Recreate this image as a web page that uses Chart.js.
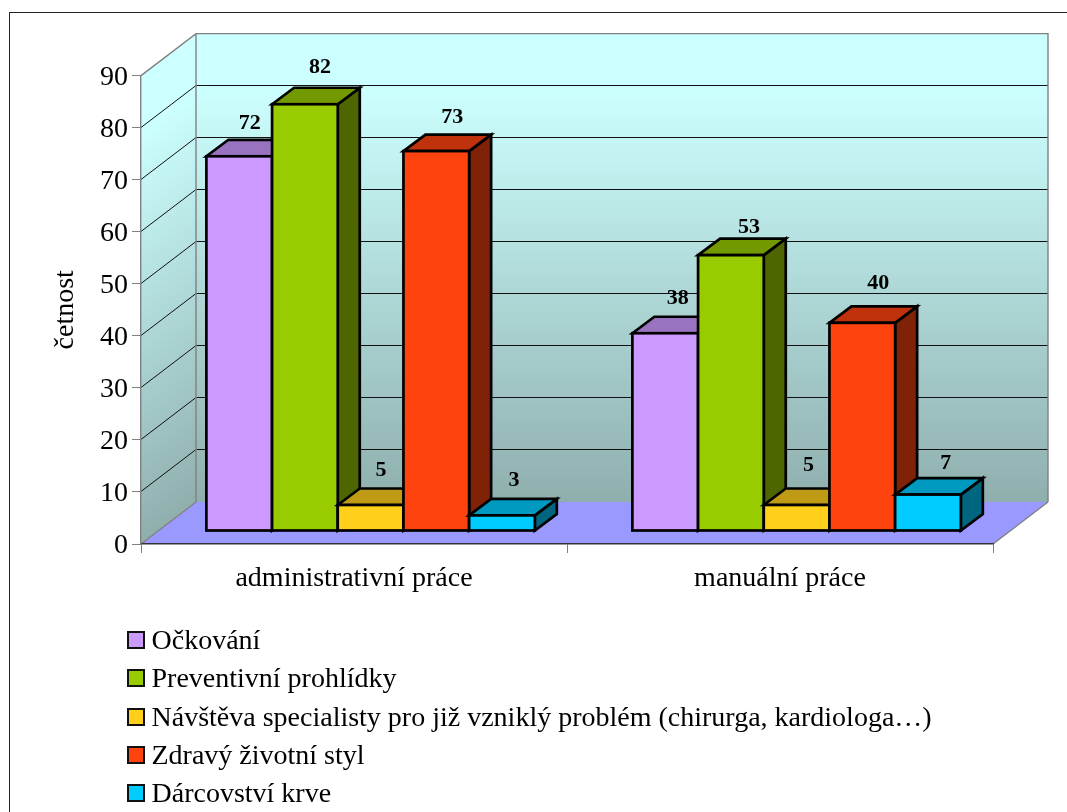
<!DOCTYPE html>
<html lang="cs">
<head>
    <meta charset="UTF-8">
    <title>četnost</title>
    <script src="https://cdn.jsdelivr.net/npm/chart.js"></script>
    <style>
        html, body { margin: 0; padding: 0; background: #fff; overflow: hidden; }
        #stage { position: relative; width: 1067px; height: 812px; overflow: hidden; }
        #frame { position: absolute; left: 9px; top: 12px; width: 1100px; height: 900px; border: 1.5px solid #222; }
        #graf { position: absolute; left: 0; top: 0; }
        #legenda { position: absolute; left: 127px; top: 621px; margin: 0; padding: 0; list-style: none;
                   font: 28px "Liberation Serif", serif; color: #000; }
        #legenda li { height: 38.3px; line-height: 38px; white-space: nowrap; }
        #legenda i { display: inline-block; width: 14px; height: 14px; border: 2.6px solid #111;
                     margin-right: 6.5px; vertical-align: 0; }
    </style>
</head>
<body>
<div id="stage">
    <div id="frame"></div>
    <canvas id="graf" width="1067" height="812"></canvas>
    <ul id="legenda"></ul>
</div>
<script>
    const kategorie = ["administrativní práce", "manuální práce"];
    const nazvyRad = [
        "Očkování",
        "Preventivní prohlídky",
        "Návštěva specialisty pro již vzniklý problém (chirurga, kardiologa…)",
        "Zdravý životní styl",
        "Dárcovství krve"
    ];
    const ockovani = [72, 38];
    const prohlidky = [82, 53];
    const specialista = [5, 5];
    const styl = [73, 40];
    const darcovstvi = [3, 7];
    const barvy = ["#CC99FF", "#99CC00", "#FFCF1C", "#FF430F", "#00CCFF"];

    // depth of the plot box and of one bar, in pixels
    const HLOUBKA = { x: 55, y: -42 };
    const SLOUPEC = { x: 22, y: -16.5 };
    // bars stand part way back on the floor
    const POSUN = { x: 16.6, y: -13 };
    const OBRYS = 2.7;
    // nudges of the value labels from the top centre of each bar
    const popisekPosun = [
        [[10.6, -33], [12.6, -35]],
        [[15, -37], [18, -28]],
        [[10.3, -35], [12, -40]],
        [[16, -34], [16, -40]],
        [[12, -35], [17.7, -31]]
    ];

    function ztmav(hex, k) {
        let n = parseInt(hex.slice(1), 16);
        let r = Math.round((n >> 16 & 255) * k);
        let g = Math.round((n >> 8 & 255) * k);
        let b = Math.round((n & 255) * k);
        return `rgb(${r},${g},${b})`;
    }

    function polygon(ctx, body, vypln, cara, sirka) {
        ctx.beginPath();
        body.forEach((p, i) => i ? ctx.lineTo(p[0], p[1]) : ctx.moveTo(p[0], p[1]));
        ctx.closePath();
        if (vypln) { ctx.fillStyle = vypln; ctx.fill(); }
        if (cara) { ctx.strokeStyle = cara; ctx.lineWidth = sirka; ctx.lineJoin = "miter"; ctx.stroke(); }
    }

    // walls, floor and wall grid behind the bars
    const stenyPlugin = {
        id: "steny",
        beforeDraw(chart) {
            let ctx = chart.ctx;
            let a = chart.chartArea;
            let dx = HLOUBKA.x, dy = HLOUBKA.y;
            let y = chart.scales.y;

            let gradZad = ctx.createLinearGradient(0, a.top + dy, 0, a.bottom + dy);
            gradZad.addColorStop(0, "#CCFFFF");
            gradZad.addColorStop(0.12, "#CCFFFF");
            gradZad.addColorStop(1, "#8FAFAD");
            polygon(ctx, [[a.left + dx, a.top + dy], [a.right + dx, a.top + dy], [a.right + dx, a.bottom + dy], [a.left + dx, a.bottom + dy]], gradZad);

            // the left wall shares the gradient, sheared along its depth
            ctx.save();
            ctx.beginPath();
            ctx.moveTo(a.left, a.top);
            ctx.lineTo(a.left + dx, a.top + dy);
            ctx.lineTo(a.left + dx, a.bottom + dy);
            ctx.lineTo(a.left, a.bottom);
            ctx.closePath();
            ctx.clip();
            ctx.transform(1, dy / dx, 0, 1, a.left, a.top);
            let gradLevy = ctx.createLinearGradient(0, 0, 0, a.bottom - a.top);
            gradLevy.addColorStop(0, "#CCFFFF");
            gradLevy.addColorStop(0.12, "#CCFFFF");
            gradLevy.addColorStop(1, "#8FAFAD");
            ctx.fillStyle = gradLevy;
            ctx.fillRect(0, 0, dx, a.bottom - a.top);
            ctx.restore();

            polygon(ctx, [[a.left, a.bottom], [a.right, a.bottom], [a.right + dx, a.bottom + dy], [a.left + dx, a.bottom + dy]], "#9999FF");

            y.ticks.forEach(t => {
                if (t.value === 0 || t.value === y.max) return;
                let py = Math.floor(y.getPixelForValue(t.value)) + 0.5;
                ctx.beginPath();
                ctx.moveTo(a.left, py);
                ctx.lineTo(a.left + dx, py + dy);
                ctx.lineTo(a.right + dx, py + dy);
                ctx.strokeStyle = "#111";
                ctx.lineWidth = 1;
                ctx.stroke();
            });

            // box outline
            ctx.strokeStyle = "#808080";
            ctx.lineWidth = 1.4;
            ctx.beginPath();
            ctx.moveTo(a.left, a.top);
            ctx.lineTo(a.left + dx, a.top + dy);
            ctx.lineTo(a.right + dx, a.top + dy);
            ctx.lineTo(a.right + dx, a.bottom + dy);
            ctx.moveTo(a.left + dx, a.top + dy);
            ctx.lineTo(a.left + dx, a.bottom + dy);
            ctx.moveTo(a.left, a.bottom);
            ctx.lineTo(a.left + dx, a.bottom + dy);
            ctx.moveTo(a.right, a.bottom);
            ctx.lineTo(a.right + dx, a.bottom + dy);
            ctx.stroke();
        }
    };

    // bars are painted left to right so each one covers the side of the previous one
    const sloupcePlugin = {
        id: "sloupce",
        beforeDatasetsDraw(chart) {
            let ctx = chart.ctx;
            chart.data.datasets.forEach((ds, i) => {
                let meta = chart.getDatasetMeta(i);
                ctx.save();
                ctx.translate(POSUN.x, POSUN.y);
                meta.data.forEach(bar => {
                    let r = bar.x + bar.width / 2, l = bar.x - bar.width / 2;
                    let t = bar.y, b = bar.base;
                    polygon(ctx, [[r, t], [r + SLOUPEC.x, t + SLOUPEC.y], [r + SLOUPEC.x, b + SLOUPEC.y], [r, b]], ztmav(barvy[i], 0.5), "#000", OBRYS);
                    polygon(ctx, [[l, t], [l + SLOUPEC.x, t + SLOUPEC.y], [r + SLOUPEC.x, t + SLOUPEC.y], [r, t]], ztmav(barvy[i], 0.75), "#000", OBRYS);
                });
                meta.controller.draw();
                meta.data.forEach(bar => {
                    ctx.strokeStyle = "#000";
                    ctx.lineWidth = OBRYS;
                    ctx.strokeRect(bar.x - bar.width / 2, bar.y, bar.width, bar.base - bar.y);
                });
                ctx.restore();
            });

            ctx.save();
            ctx.font = 'bold 22px "Liberation Serif", serif';
            ctx.fillStyle = "#000";
            ctx.textAlign = "center";
            ctx.textBaseline = "middle";
            chart.data.datasets.forEach((ds, i) => {
                chart.getDatasetMeta(i).data.forEach((bar, j) => {
                    let o = popisekPosun[i][j];
                    ctx.fillText(ds.data[j], bar.x + POSUN.x + o[0], bar.y + POSUN.y + o[1]);
                });
            });
            ctx.restore();
            return false;
        }
    };

    const rady = [ockovani, prohlidky, specialista, styl, darcovstvi];

    let chart = new Chart(document.getElementById("graf").getContext("2d"), {
        type: "bar",
        data: {
            labels: kategorie,
            datasets: rady.map((hodnoty, i) => ({
                label: nazvyRad[i],
                data: hodnoty,
                backgroundColor: barvy[i],
                borderWidth: 0,
                barPercentage: 1,
                categoryPercentage: 0.771
            }))
        },
        options: {
            responsive: false,
            animation: false,
            layout: { padding: { left: 0, top: 75.6, right: 74, bottom: 0 } },
            plugins: { legend: { display: false }, tooltip: { enabled: false } },
            scales: {
                x: {
                    afterFit: s => { s.height = 268; },
                    grid: { drawOnChartArea: false, color: "#808080", tickLength: 9 },
                    border: { color: "#333", width: 1.5 },
                    ticks: { color: "#000", font: { family: '"Liberation Serif", serif', size: 28 }, padding: 9, maxRotation: 0 }
                },
                y: {
                    min: 0,
                    max: 90,
                    afterFit: s => { s.width = 141; },
                    grid: { drawOnChartArea: false, color: "#808080", tickLength: 9 },
                    border: { color: "#808080", width: 1.4 },
                    ticks: { stepSize: 10, color: "#000", font: { family: '"Liberation Serif", serif', size: 28 }, padding: 4, labelOffset: 2 },
                    title: {
                        display: true,
                        text: "četnost",
                        color: "#000",
                        font: { family: '"Liberation Serif", serif', size: 28 },
                        padding: { top: 49, bottom: 0 }
                    }
                }
            }
        },
        plugins: [stenyPlugin, sloupcePlugin]
    });

    // legend as a plain list below the plot
    let legenda = document.getElementById("legenda");
    chart.data.datasets.forEach(ds => {
        let li = document.createElement("li");
        let znacka = document.createElement("i");
        znacka.style.backgroundColor = ds.backgroundColor;
        li.appendChild(znacka);
        li.appendChild(document.createTextNode(ds.label));
        legenda.appendChild(li);
    });
</script>
</body>
</html>
